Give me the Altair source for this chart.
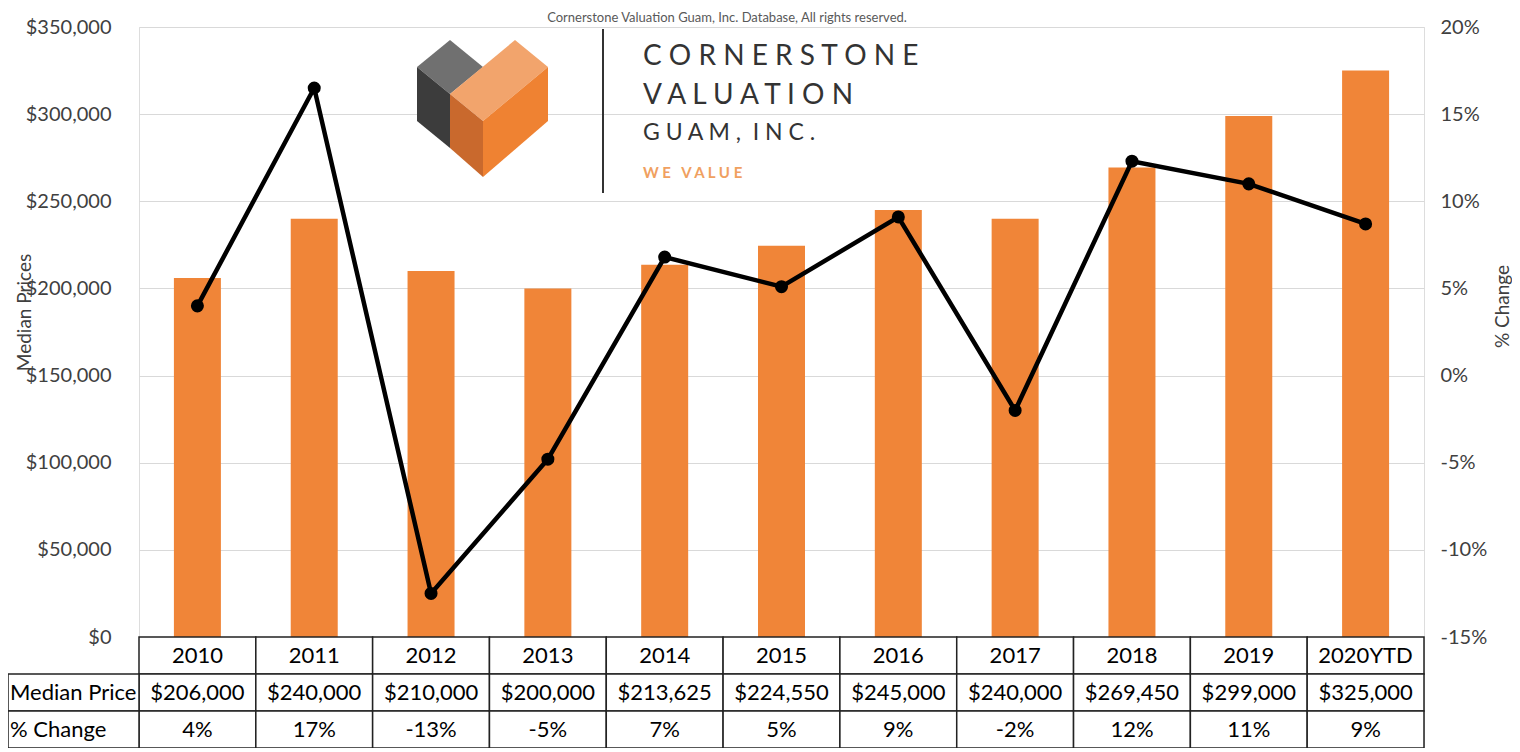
import altair as alt
import pandas as pd

years = ["2010", "2011", "2012", "2013", "2014", "2015", "2016", "2017", "2018", "2019", "2020YTD"]
median_prices = [206000, 240000, 210000, 200000, 213625, 224550, 245000, 240000, 269450, 299000, 325000]
pct_change = [0.040, 0.165, -0.125, -0.048, 0.068, 0.051, 0.091, -0.020, 0.123, 0.110, 0.087]
pct_labels = ["4%", "17%", "-13%", "-5%", "7%", "5%", "9%", "-2%", "12%", "11%", "9%"]
row_names = ["Year", "Median Price", "% Change"]
left_ticks = [0, 50000, 100000, 150000, 200000, 250000, 300000, 350000]
right_ticks = [-0.15, -0.10, -0.05, 0.0, 0.05, 0.10, 0.15, 0.20]

FONT = "Lato"
W, PLOT_H, TABLE_H = 1285, 610, 111
H = PLOT_H + TABLE_H
NB = "\u00a0"

df = pd.DataFrame({"year": years, "price": median_prices, "pct": pct_change})

rows = []
for y, p, pl in zip(years, median_prices, pct_labels):
    rows.append({"year": y, "row": "Year", "txt": y})
    rows.append({"year": y, "row": "Median Price", "txt": f"${p:,}"})
    rows.append({"year": y, "row": "% Change", "txt": pl})
table_df = pd.DataFrame(rows)
label_df = pd.DataFrame({"row": row_names[1:], "txt": row_names[1:]})

xenc = alt.X("year:N", sort=years, axis=None,
             scale=alt.Scale(type="band", paddingInner=0, paddingOuter=0))

bars = alt.Chart(df).mark_bar(size=47, color="#F08538").encode(
    x=xenc,
    y=alt.Y("price:Q",
            scale=alt.Scale(domain=[0, 350000], range=[PLOT_H, 0], nice=False, zero=True),
            axis=alt.Axis(title="Median Prices", values=left_ticks, format="$,.0f",
                          orient="left", grid=True, gridColor="#d9d9d9", gridWidth=1.2,
                          domain=False, ticks=False, labelPadding=28,
                          labelFont=FONT, labelFontSize=20, labelColor="#404040",
                          titleFont=FONT, titleFontSize=19, titleFontWeight="normal",
                          titleColor="#404040", titleX=-115, titleY=285,
                          titleBaseline="middle")),
)

pct_y = alt.Y("pct:Q",
              scale=alt.Scale(domain=[-0.15, 0.20], range=[PLOT_H, 0], nice=False, zero=False),
              axis=alt.Axis(title="% Change", values=right_ticks, format=".0%",
                            labelExpr="replace(datum.label, '\u2212', '-')",
                            orient="right", grid=False, domain=False, ticks=False,
                            labelPadding=16, labelFont=FONT, labelFontSize=20,
                            labelColor="#404040", titleFont=FONT, titleFontSize=19,
                            titleFontWeight="normal", titleColor="#404040",
                            titleAngle=270, titleX=78, titleY=279,
                            titleBaseline="middle"))

line = alt.Chart(df).mark_line(color="black", strokeWidth=4.5).encode(x=xenc, y=pct_y)
points = alt.Chart(df).mark_point(filled=True, color="black", size=170, opacity=1).encode(x=xenc, y=pct_y)
pct_layer = alt.layer(line, points)

row_y = alt.Y("row:N", sort=row_names, axis=None,
              scale=alt.Scale(type="band", domain=row_names, range=[PLOT_H, H],
                              paddingInner=0, paddingOuter=0))

cells = alt.Chart(table_df).mark_rect(fill="white", stroke="#222222", strokeWidth=1.5).encode(
    x=xenc, y=row_y)
cell_text = alt.Chart(table_df).mark_text(font=FONT, fontSize=22, color="black").encode(
    x=xenc, y=row_y, text="txt:N")
label_cells = alt.Chart(label_df).mark_rect(fill="white", stroke="#222222", strokeWidth=1.5).encode(
    x=alt.value(-131), x2=alt.value(0), y=row_y)
label_text = alt.Chart(label_df).mark_text(font=FONT, fontSize=22, color="black", align="left").encode(
    x=alt.value(-129), y=row_y, text="txt:N")
table_layer = alt.layer(cells, cell_text, label_cells, label_text)

# Logo (decorative)
logo_paths = [
    "M -66 -41 L -33 -68 L 0 -41 L -33 -14 Z",
    "M -66 -41 L -33 -14 L -33 40 L -66 13 Z",
    "M -33 -14 L 32 -68 L 65 -41 L 0 13 Z",
    "M -33 -14 L 0 13 L 0 69 L -33 40 Z",
    "M 0 13 L 65 -41 L 65 13 L 0 69 Z",
]
logo_colors = ["#707070", "#3c3c3c", "#F2A46C", "#C9692D", "#EF8232"]
logo_df = pd.DataFrame({"path": logo_paths, "col": logo_colors})
logo = alt.Chart(logo_df).mark_point(filled=True, size=4, opacity=1, strokeWidth=0).encode(
    x=alt.value(344), y=alt.value(81),
    shape=alt.Shape("path:N", scale=None, legend=None),
    color=alt.Color("col:N", scale=None, legend=None),
)
logo_rule = alt.Chart(logo_df).mark_rule(color="#333333", strokeWidth=1.5).encode(
    x=alt.value(464), y=alt.value(2), y2=alt.value(166))


def logo_txt(t, y, size, color, weight="normal"):
    return alt.Chart(pd.DataFrame({"t": [t]})).mark_text(
        font=FONT, fontSize=size, color=color, align="left", baseline="alphabetic",
        fontWeight=weight).encode(x=alt.value(504), y=alt.value(y), text="t:N")


logo_texts = [
    logo_txt("C O R N E R S T O N E", 38, 28, "#333333"),
    logo_txt("V A L U A T I O N", 77, 28, "#333333"),
    logo_txt("G U A M ," + NB + NB + "I N C .", 113, 23, "#333333"),
    logo_txt("W E" + NB + NB + " V A L U E", 151, 15, "#F0A060", "bold"),
]

title = alt.Chart(pd.DataFrame({"t": ["Cornerstone Valuation Guam, Inc. Database, All rights reserved."]})).mark_text(
    font=FONT, fontSize=13, color="#595959", align="center", baseline="alphabetic").encode(
    x=alt.value(588), y=alt.value(-5), text="t:N")

chart = alt.layer(
    bars, pct_layer, table_layer, logo, logo_rule, *logo_texts, title
).resolve_scale(y="independent").properties(
    width=W, height=H,
    padding={"left": 131, "top": 19, "right": 88, "bottom": 0},
    autosize=alt.AutoSizeParams(type="none"),
).configure_view(stroke="#333333", strokeWidth=2).configure(background="white")

chart.save("out.html", embed_options={"renderer": "svg", "actions": False})
